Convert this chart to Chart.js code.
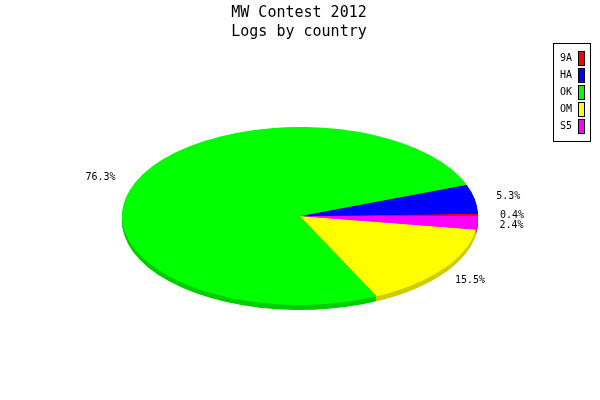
<!DOCTYPE html>
<html lang="en">
<head>
    <meta charset="UTF-8">
    <title>MW Contest 2012</title>
    <script src="https://cdn.jsdelivr.net/npm/chart.js"></script>
    <style>
        body { margin: 0; background: #fff; }
        #chart-container { width: 600px; height: 400px; }
    </style>
</head>
<body>
    <div id="chart-container">
        <canvas id="pieChart" width="600" height="400"></canvas>
    </div>
    <script>
        // data (percent of logs)
        var countries = ['9A', 'HA', 'OK', 'OM', 'S5'];
        var shares = [0.4, 5.3, 76.3, 15.5, 2.4];
        var colors = ['#ff0000', '#0000ff', '#00ff00', '#ffff00', '#ff00ff'];
        var sideColors = ['#cc0000', '#0000cc', '#00cc00', '#cccc00', '#cc00cc'];
        var titleLines = ['MW Contest 2012', 'Logs by country'];

        // where the flattened pie sits on the page
        var pieCx = 300, pieCy = 216, tilt = 0.5, depth = 5;

        function toScreen(ctx, el, dy) {
            ctx.translate(pieCx, pieCy + dy);
            ctx.scale(1, -tilt);   // flip so slices run counterclockwise
            ctx.translate(-el.x, -el.y);
        }

        var flatPie = {
            id: 'flatPie',
            beforeDatasetsDraw: function (chart) {
                var ctx = chart.ctx;
                var arcs = chart.getDatasetMeta(0).data;
                // side wall: stack of darker copies shifted down
                for (var d = depth; d >= 1; d--) {
                    arcs.forEach(function (el, i) {
                        ctx.save();
                        toScreen(ctx, el, d);
                        ctx.beginPath();
                        ctx.moveTo(el.x, el.y);
                        ctx.arc(el.x, el.y, el.outerRadius, el.startAngle, el.endAngle);
                        ctx.closePath();
                        ctx.fillStyle = sideColors[i];
                        ctx.fill();
                        ctx.restore();
                    });
                }
                ctx.save();
                toScreen(ctx, arcs[0], 0);
            },
            afterDatasetsDraw: function (chart) {
                var ctx = chart.ctx;
                ctx.restore();
                var arcs = chart.getDatasetMeta(0).data;
                ctx.save();
                ctx.fillStyle = '#000';
                ctx.font = '10px "DejaVu Sans Mono", monospace';
                ctx.textAlign = 'center';
                ctx.textBaseline = 'middle';
                arcs.forEach(function (el, i) {
                    var mid = (el.startAngle + el.endAngle) / 2;
                    var r = el.outerRadius * 1.2;
                    var x = pieCx - 1.5 + r * Math.cos(mid);
                    var y = pieCy + 1 - r * tilt * Math.sin(mid);
                    ctx.fillText(shares[i].toFixed(1) + '%', x, y);
                });
                ctx.restore();
            },
            afterDraw: function (chart) {
                var ctx = chart.ctx;
                ctx.save();
                ctx.fillStyle = '#000';
                ctx.textAlign = 'center';
                ctx.textBaseline = 'middle';
                ctx.font = '15px "DejaVu Sans Mono", monospace';
                ctx.fillText(titleLines[0], 299, 13);
                ctx.fillText(titleLines[1], 299, 32);

                // legend box
                ctx.lineWidth = 1;
                ctx.strokeStyle = '#000';
                ctx.strokeRect(553.5, 43.5, 37, 98);
                ctx.font = '10px "DejaVu Sans Mono", monospace';
                ctx.textAlign = 'left';
                countries.forEach(function (c, i) {
                    var y = 51 + 17 * i;
                    ctx.fillStyle = '#000';
                    ctx.fillText(c, 560, y + 7);
                    ctx.fillStyle = colors[i];
                    ctx.fillRect(578.5, y + 0.5, 6, 14);
                    ctx.strokeRect(578.5, y + 0.5, 6, 14);
                });
                ctx.restore();
            }
        };

        var ctx = document.getElementById('pieChart').getContext('2d');
        var pieChart = new Chart(ctx, {
            type: 'pie',
            data: {
                labels: countries,
                datasets: [{
                    data: shares,
                    backgroundColor: colors,
                    borderWidth: 0,
                    clip: false
                }]
            },
            options: {
                responsive: false,
                animation: false,
                events: [],
                rotation: 90,
                radius: 178,
                layout: { padding: 0 },
                plugins: {
                    legend: { display: false },
                    title: { display: false },
                    tooltip: { enabled: false }
                }
            },
            plugins: [flatPie]
        });
    </script>
</body>
</html>
